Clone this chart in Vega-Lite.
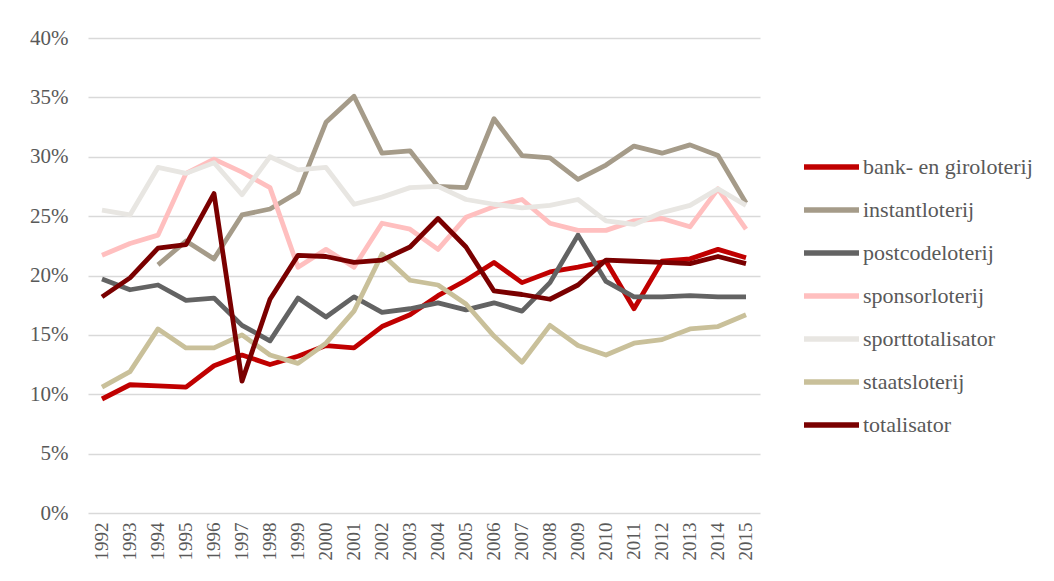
{
  "$schema": "https://vega.github.io/schema/vega-lite/v6.json",
  "autosize": {"type": "none"},
  "width": 672,
  "height": 475,
  "padding": {"left": 88, "top": 38, "right": 294, "bottom": 68},
  "background": "white",
  "config": {
    "view": {"stroke": null},
    "font": "Liberation Serif",
    "axis": {"labelFont": "Liberation Serif", "labelColor": "#595959"},
    "legend": {"labelFont": "Liberation Serif", "labelColor": "#595959"}
  },
  "datasets": {
    "d": [
      {"year": "1992", "series": "bank- en giroloterij", "value": 0.096},
      {"year": "1993", "series": "bank- en giroloterij", "value": 0.108},
      {"year": "1994", "series": "bank- en giroloterij", "value": 0.107},
      {"year": "1995", "series": "bank- en giroloterij", "value": 0.106},
      {"year": "1996", "series": "bank- en giroloterij", "value": 0.124},
      {"year": "1997", "series": "bank- en giroloterij", "value": 0.133},
      {"year": "1998", "series": "bank- en giroloterij", "value": 0.125},
      {"year": "1999", "series": "bank- en giroloterij", "value": 0.132},
      {"year": "2000", "series": "bank- en giroloterij", "value": 0.141},
      {"year": "2001", "series": "bank- en giroloterij", "value": 0.139},
      {"year": "2002", "series": "bank- en giroloterij", "value": 0.157},
      {"year": "2003", "series": "bank- en giroloterij", "value": 0.167},
      {"year": "2004", "series": "bank- en giroloterij", "value": 0.183},
      {"year": "2005", "series": "bank- en giroloterij", "value": 0.196},
      {"year": "2006", "series": "bank- en giroloterij", "value": 0.211},
      {"year": "2007", "series": "bank- en giroloterij", "value": 0.194},
      {"year": "2008", "series": "bank- en giroloterij", "value": 0.203},
      {"year": "2009", "series": "bank- en giroloterij", "value": 0.207},
      {"year": "2010", "series": "bank- en giroloterij", "value": 0.212},
      {"year": "2011", "series": "bank- en giroloterij", "value": 0.172},
      {"year": "2012", "series": "bank- en giroloterij", "value": 0.212},
      {"year": "2013", "series": "bank- en giroloterij", "value": 0.214},
      {"year": "2014", "series": "bank- en giroloterij", "value": 0.222},
      {"year": "2015", "series": "bank- en giroloterij", "value": 0.215},

      {"year": "1994", "series": "instantloterij", "value": 0.209},
      {"year": "1995", "series": "instantloterij", "value": 0.229},
      {"year": "1996", "series": "instantloterij", "value": 0.214},
      {"year": "1997", "series": "instantloterij", "value": 0.251},
      {"year": "1998", "series": "instantloterij", "value": 0.256},
      {"year": "1999", "series": "instantloterij", "value": 0.270},
      {"year": "2000", "series": "instantloterij", "value": 0.329},
      {"year": "2001", "series": "instantloterij", "value": 0.351},
      {"year": "2002", "series": "instantloterij", "value": 0.303},
      {"year": "2003", "series": "instantloterij", "value": 0.305},
      {"year": "2004", "series": "instantloterij", "value": 0.275},
      {"year": "2005", "series": "instantloterij", "value": 0.274},
      {"year": "2006", "series": "instantloterij", "value": 0.332},
      {"year": "2007", "series": "instantloterij", "value": 0.301},
      {"year": "2008", "series": "instantloterij", "value": 0.299},
      {"year": "2009", "series": "instantloterij", "value": 0.281},
      {"year": "2010", "series": "instantloterij", "value": 0.293},
      {"year": "2011", "series": "instantloterij", "value": 0.309},
      {"year": "2012", "series": "instantloterij", "value": 0.303},
      {"year": "2013", "series": "instantloterij", "value": 0.310},
      {"year": "2014", "series": "instantloterij", "value": 0.301},
      {"year": "2015", "series": "instantloterij", "value": 0.261},

      {"year": "1992", "series": "postcodeloterij", "value": 0.197},
      {"year": "1993", "series": "postcodeloterij", "value": 0.188},
      {"year": "1994", "series": "postcodeloterij", "value": 0.192},
      {"year": "1995", "series": "postcodeloterij", "value": 0.179},
      {"year": "1996", "series": "postcodeloterij", "value": 0.181},
      {"year": "1997", "series": "postcodeloterij", "value": 0.158},
      {"year": "1998", "series": "postcodeloterij", "value": 0.145},
      {"year": "1999", "series": "postcodeloterij", "value": 0.181},
      {"year": "2000", "series": "postcodeloterij", "value": 0.165},
      {"year": "2001", "series": "postcodeloterij", "value": 0.182},
      {"year": "2002", "series": "postcodeloterij", "value": 0.169},
      {"year": "2003", "series": "postcodeloterij", "value": 0.172},
      {"year": "2004", "series": "postcodeloterij", "value": 0.177},
      {"year": "2005", "series": "postcodeloterij", "value": 0.171},
      {"year": "2006", "series": "postcodeloterij", "value": 0.177},
      {"year": "2007", "series": "postcodeloterij", "value": 0.170},
      {"year": "2008", "series": "postcodeloterij", "value": 0.194},
      {"year": "2009", "series": "postcodeloterij", "value": 0.234},
      {"year": "2010", "series": "postcodeloterij", "value": 0.195},
      {"year": "2011", "series": "postcodeloterij", "value": 0.182},
      {"year": "2012", "series": "postcodeloterij", "value": 0.182},
      {"year": "2013", "series": "postcodeloterij", "value": 0.183},
      {"year": "2014", "series": "postcodeloterij", "value": 0.182},
      {"year": "2015", "series": "postcodeloterij", "value": 0.182},

      {"year": "1992", "series": "sponsorloterij", "value": 0.217},
      {"year": "1993", "series": "sponsorloterij", "value": 0.227},
      {"year": "1994", "series": "sponsorloterij", "value": 0.234},
      {"year": "1995", "series": "sponsorloterij", "value": 0.286},
      {"year": "1996", "series": "sponsorloterij", "value": 0.298},
      {"year": "1997", "series": "sponsorloterij", "value": 0.287},
      {"year": "1998", "series": "sponsorloterij", "value": 0.274},
      {"year": "1999", "series": "sponsorloterij", "value": 0.207},
      {"year": "2000", "series": "sponsorloterij", "value": 0.222},
      {"year": "2001", "series": "sponsorloterij", "value": 0.207},
      {"year": "2002", "series": "sponsorloterij", "value": 0.244},
      {"year": "2003", "series": "sponsorloterij", "value": 0.239},
      {"year": "2004", "series": "sponsorloterij", "value": 0.222},
      {"year": "2005", "series": "sponsorloterij", "value": 0.249},
      {"year": "2006", "series": "sponsorloterij", "value": 0.258},
      {"year": "2007", "series": "sponsorloterij", "value": 0.264},
      {"year": "2008", "series": "sponsorloterij", "value": 0.244},
      {"year": "2009", "series": "sponsorloterij", "value": 0.238},
      {"year": "2010", "series": "sponsorloterij", "value": 0.238},
      {"year": "2011", "series": "sponsorloterij", "value": 0.246},
      {"year": "2012", "series": "sponsorloterij", "value": 0.248},
      {"year": "2013", "series": "sponsorloterij", "value": 0.241},
      {"year": "2014", "series": "sponsorloterij", "value": 0.273},
      {"year": "2015", "series": "sponsorloterij", "value": 0.239},

      {"year": "1992", "series": "sporttotalisator", "value": 0.255},
      {"year": "1993", "series": "sporttotalisator", "value": 0.251},
      {"year": "1994", "series": "sporttotalisator", "value": 0.291},
      {"year": "1995", "series": "sporttotalisator", "value": 0.286},
      {"year": "1996", "series": "sporttotalisator", "value": 0.295},
      {"year": "1997", "series": "sporttotalisator", "value": 0.268},
      {"year": "1998", "series": "sporttotalisator", "value": 0.300},
      {"year": "1999", "series": "sporttotalisator", "value": 0.289},
      {"year": "2000", "series": "sporttotalisator", "value": 0.291},
      {"year": "2001", "series": "sporttotalisator", "value": 0.260},
      {"year": "2002", "series": "sporttotalisator", "value": 0.266},
      {"year": "2003", "series": "sporttotalisator", "value": 0.274},
      {"year": "2004", "series": "sporttotalisator", "value": 0.275},
      {"year": "2005", "series": "sporttotalisator", "value": 0.264},
      {"year": "2006", "series": "sporttotalisator", "value": 0.260},
      {"year": "2007", "series": "sporttotalisator", "value": 0.257},
      {"year": "2008", "series": "sporttotalisator", "value": 0.259},
      {"year": "2009", "series": "sporttotalisator", "value": 0.264},
      {"year": "2010", "series": "sporttotalisator", "value": 0.246},
      {"year": "2011", "series": "sporttotalisator", "value": 0.243},
      {"year": "2012", "series": "sporttotalisator", "value": 0.253},
      {"year": "2013", "series": "sporttotalisator", "value": 0.259},
      {"year": "2014", "series": "sporttotalisator", "value": 0.273},
      {"year": "2015", "series": "sporttotalisator", "value": 0.259},

      {"year": "1992", "series": "staatsloterij", "value": 0.106},
      {"year": "1993", "series": "staatsloterij", "value": 0.119},
      {"year": "1994", "series": "staatsloterij", "value": 0.155},
      {"year": "1995", "series": "staatsloterij", "value": 0.139},
      {"year": "1996", "series": "staatsloterij", "value": 0.139},
      {"year": "1997", "series": "staatsloterij", "value": 0.150},
      {"year": "1998", "series": "staatsloterij", "value": 0.133},
      {"year": "1999", "series": "staatsloterij", "value": 0.126},
      {"year": "2000", "series": "staatsloterij", "value": 0.143},
      {"year": "2001", "series": "staatsloterij", "value": 0.170},
      {"year": "2002", "series": "staatsloterij", "value": 0.218},
      {"year": "2003", "series": "staatsloterij", "value": 0.196},
      {"year": "2004", "series": "staatsloterij", "value": 0.192},
      {"year": "2005", "series": "staatsloterij", "value": 0.176},
      {"year": "2006", "series": "staatsloterij", "value": 0.149},
      {"year": "2007", "series": "staatsloterij", "value": 0.127},
      {"year": "2008", "series": "staatsloterij", "value": 0.158},
      {"year": "2009", "series": "staatsloterij", "value": 0.141},
      {"year": "2010", "series": "staatsloterij", "value": 0.133},
      {"year": "2011", "series": "staatsloterij", "value": 0.143},
      {"year": "2012", "series": "staatsloterij", "value": 0.146},
      {"year": "2013", "series": "staatsloterij", "value": 0.155},
      {"year": "2014", "series": "staatsloterij", "value": 0.157},
      {"year": "2015", "series": "staatsloterij", "value": 0.167},

      {"year": "1992", "series": "totalisator", "value": 0.182},
      {"year": "1993", "series": "totalisator", "value": 0.198},
      {"year": "1994", "series": "totalisator", "value": 0.223},
      {"year": "1995", "series": "totalisator", "value": 0.226},
      {"year": "1996", "series": "totalisator", "value": 0.269},
      {"year": "1997", "series": "totalisator", "value": 0.111},
      {"year": "1998", "series": "totalisator", "value": 0.180},
      {"year": "1999", "series": "totalisator", "value": 0.217},
      {"year": "2000", "series": "totalisator", "value": 0.216},
      {"year": "2001", "series": "totalisator", "value": 0.211},
      {"year": "2002", "series": "totalisator", "value": 0.213},
      {"year": "2003", "series": "totalisator", "value": 0.224},
      {"year": "2004", "series": "totalisator", "value": 0.248},
      {"year": "2005", "series": "totalisator", "value": 0.224},
      {"year": "2006", "series": "totalisator", "value": 0.187},
      {"year": "2007", "series": "totalisator", "value": 0.184},
      {"year": "2008", "series": "totalisator", "value": 0.180},
      {"year": "2009", "series": "totalisator", "value": 0.192},
      {"year": "2010", "series": "totalisator", "value": 0.213},
      {"year": "2011", "series": "totalisator", "value": 0.212},
      {"year": "2012", "series": "totalisator", "value": 0.211},
      {"year": "2013", "series": "totalisator", "value": 0.210},
      {"year": "2014", "series": "totalisator", "value": 0.216},
      {"year": "2015", "series": "totalisator", "value": 0.210}
    ]
  },
  "data": {"name": "d"},
  "mark": {"type": "line", "strokeWidth": 4.8, "strokeJoin": "round", "strokeCap": "butt"},
  "encoding": {
    "x": {
      "field": "year",
      "type": "ordinal",
      "scale": {"type": "band", "paddingInner": 0, "paddingOuter": 0},
      "axis": {
        "title": null,
        "labelAngle": 270,
        "labelFontSize": 19,
        "labelPadding": 9,
        "ticks": false,
        "domain": false,
        "grid": false
      }
    },
    "y": {
      "field": "value",
      "type": "quantitative",
      "scale": {"domain": [0, 0.4], "nice": false},
      "axis": {
        "title": null,
        "format": ".0%",
        "values": [0, 0.05, 0.1, 0.15, 0.2, 0.25, 0.3, 0.35, 0.4],
        "labelFontSize": 21,
        "labelPadding": 20,
        "ticks": false,
        "domain": false,
        "grid": true,
        "gridColor": "#D9D9D9",
        "gridWidth": 1.5
      }
    },
    "color": {
      "field": "series",
      "type": "nominal",
      "scale": {
        "domain": ["bank- en giroloterij", "instantloterij", "postcodeloterij", "sponsorloterij", "sporttotalisator", "staatsloterij", "totalisator"],
        "range": ["#C00000", "#A59B89", "#636363", "#FFBFBF", "#E8E6E2", "#C9C09A", "#7A0000"]
      },
      "legend": {
        "title": null,
        "orient": "none",
        "legendX": 713,
        "legendY": 119,
        "symbolType": "stroke",
        "symbolSize": 3025,
        "symbolStrokeWidth": 5.5,
        "clipHeight": 20,
        "rowPadding": 21,
        "labelFontSize": 22,
        "labelOffset": 1,
        "labelLimit": 300
      }
    },
    "order": {"field": "year"}
  }
}
